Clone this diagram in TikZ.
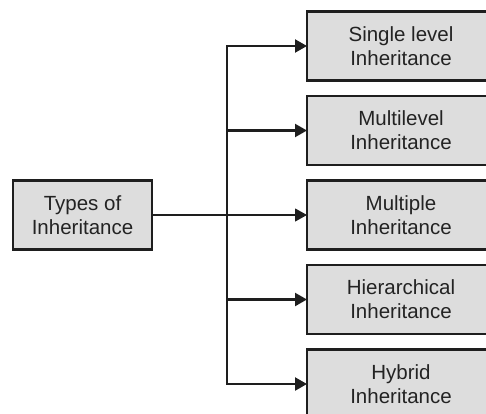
\documentclass[tikz,border=0pt]{standalone}
\usepackage{fontspec}
\setmainfont{Liberation Sans}
\usetikzlibrary{arrows.meta,positioning}
\definecolor{boxfill}{RGB}{221,221,221}
\definecolor{boxline}{RGB}{30,30,30}
\definecolor{txtcolor}{RGB}{35,35,35}
\tikzset{
  typebox/.style={draw=boxline, fill=boxfill, line width=2.4pt, align=center,
    text=txtcolor, inner sep=0pt, outer sep=0pt, font=\fontsize{20.5}{24}\selectfont},
  kindbox/.style={typebox, minimum width=188pt, minimum height=69pt},
  branchln/.style={-{Triangle[length=12pt,width=13pt]}, line width=2.2pt, boxline},
  mainln/.style={-{Triangle[length=12pt,width=13pt]}, line width=1.1pt, boxline},
}

\begin{document}
\begin{tikzpicture}[x=1pt,y=-1pt]
    \useasboundingbox (0,0) rectangle (486,413);
    \clip (0,0) rectangle (486,413);
    % Source box
    \node[typebox, minimum width=139pt, minimum height=69pt] (types) at (82.5,215)
      {Types of\\Inheritance};
    % Kinds of inheritance
    \node[kindbox] (single) at (401,46) {Single level\\Inheritance};
    \node[kindbox, below=15.5pt of single] (multilevel) {Multilevel\\Inheritance};
    \node[kindbox, below=15.5pt of multilevel] (multiple) {Multiple\\Inheritance};
    \node[kindbox, below=15.5pt of multiple] (hierarchical) {Hierarchical\\Inheritance};
    \node[kindbox, below=15.5pt of hierarchical] (hybrid) {Hybrid\\Inheritance};
    % Trunk and branches
    \coordinate (trunk) at (227,0);
    \draw[line width=2.2pt, boxline, line cap=rect]
      (trunk |- single.west) -- (trunk |- hybrid.west);
    \foreach \k in {single,multilevel,hierarchical,hybrid}
      \draw[branchln] (trunk |- \k.west) -- (\k.west);
    \draw[mainln] (types.east) -- (multiple.west);
  \end{tikzpicture}
\end{document}
